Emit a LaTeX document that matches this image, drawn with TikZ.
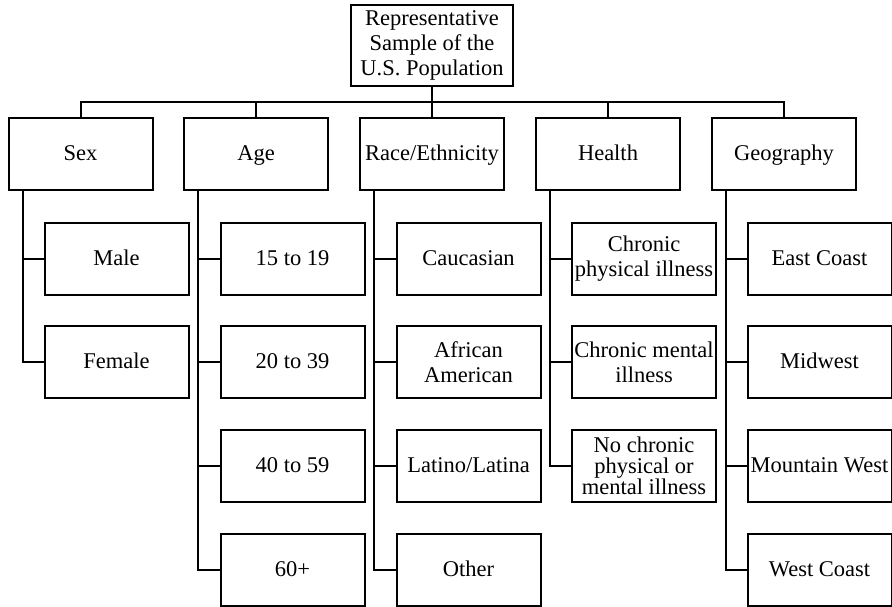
\documentclass[tikz,border=0pt]{standalone}
\usepackage{fontspec}
\setmainfont{Liberation Serif}
\usetikzlibrary{positioning}

\begin{document}
\begin{tikzpicture}[x=1pt,y=-1pt]
  \tikzstyle{box}=[draw,line width=2pt,minimum width=144pt,minimum height=72pt,
    align=center,inner sep=1pt,font=\fontsize{22.5}{25}\selectfont]
  \tikzstyle{one}=[text height=17pt,text depth=3.5pt]
  \tikzstyle{lien}=[line width=2pt]
  \useasboundingbox (0,0) rectangle (892,606);
  \node[box,minimum width=162pt,minimum height=81pt] (root) at (432,45.5)
    {Representative\\Sample of the\\U.S. Population};
  % categories
  \node[box,one] (sex) at (80.5,154) {Sex};
  \node[box,one] (age) at (256,154) {Age};
  \node[box,one] (race) at (432,154) {Race/Ethnicity};
  \node[box,one] (health) at (608,154) {Health};
  \node[box,one] (geo) at (784,154) {Geography};
  % sex
  \node[box,one] (male) at (116.5,258.5) {Male};
  \node[box,one] (female) at (116.5,362) {Female};
  % age
  \node[box,one] (a1) at (292.5,258.5) {15 to 19};
  \node[box,one] (a2) at (292.5,362) {20 to 39};
  \node[box,one] (a3) at (292.5,466) {40 to 59};
  \node[box,one] (a4) at (292.5,570) {60+};
  % race
  \node[box,one] (r1) at (468.5,258.5) {Caucasian};
  \node[box] (r2) at (468.5,362) {African\\American};
  \node[box,one] (r3) at (468.5,466) {Latino/Latina};
  \node[box,one] (r4) at (468.5,570) {Other};
  % health
  \node[box] (h1) at (644,258.5) {Chronic\\physical illness};
  \node[box] (h2) at (644,362) {Chronic mental\\illness};
  \node[box,font=\fontsize{22.5}{21}\selectfont] (h3) at (644,466)
    {No chronic\\physical or\\mental illness};
  % geography
  \node[box,one] (g1) at (819.5,258.5) {East Coast};
  \node[box,one] (g2) at (819.5,362) {Midwest};
  \node[box,one] (g3) at (819.5,466) {Mountain West};
  \node[box,one] (g4) at (819.5,570) {West Coast};
  % links
  \foreach \c in {sex,age,race,health,geo}
    \draw[lien] (root.south) -- ++(0,15) -| (\c.north);
  \foreach \p/\c in {sex/male,sex/female,age/a1,age/a2,age/a3,age/a4,
    race/r1,race/r2,race/r3,race/r4,health/h1,health/h2,health/h3,
    geo/g1,geo/g2,geo/g3,geo/g4}
    \draw[lien] ([xshift=15pt]\p.south west) |- (\c.west);
\end{tikzpicture}
\end{document}
